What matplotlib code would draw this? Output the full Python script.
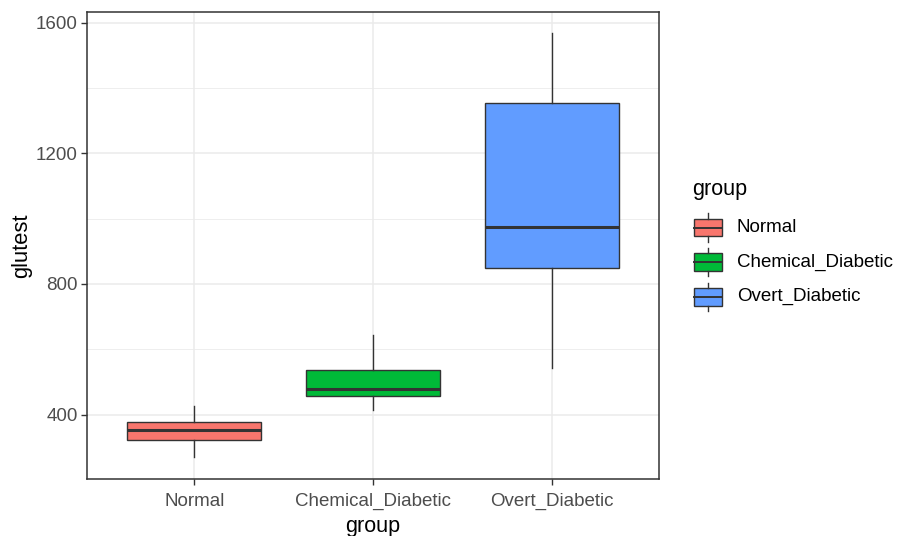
import matplotlib.pyplot as plt
from matplotlib.patches import Rectangle
from matplotlib.ticker import MultipleLocator

plt.rcParams['font.family'] = ['Liberation Sans', 'DejaVu Sans']

# glutest summary per group
groups = ["Normal", "Chemical_Diabetic", "Overt_Diabetic"]
whis_lo = [271, 414, 542]
q1 = [323, 456, 850]
median = [353, 477, 975]
q3 = [378, 535, 1355]
whis_hi = [426, 643, 1569]
colors = ["#F8766D", "#00BA38", "#619CFF"]

edge = "#333333"
W, H = 897, 536
fig = plt.figure(figsize=(W / 100, H / 100), dpi=100)
ax = fig.add_axes([87.3 / W, 1 - 479 / H, (659 - 87.3) / W, (479 - 12.3) / H])

stats = []
for g, lo, a, m, b, hi in zip(groups, whis_lo, q1, median, q3, whis_hi):
    stats.append(dict(label=g, whislo=lo, q1=a, med=m, q3=b, whishi=hi, fliers=[]))

pos = list(range(1, len(groups) + 1))
bp = ax.bxp(stats, positions=pos, widths=0.75, patch_artist=True, showcaps=False,
            boxprops=dict(edgecolor=edge, linewidth=1.0),
            whiskerprops=dict(color=edge, linewidth=1.0),
            medianprops=dict(color=edge, linewidth=2.2, solid_capstyle='butt'),
            zorder=3)
for patch, c in zip(bp['boxes'], colors):
    patch.set_facecolor(c)

ax.set_xlim(0.4, 3.6)
ax.set_ylim(202.5, 1632)
ax.yaxis.set_major_locator(MultipleLocator(400))
ax.yaxis.set_minor_locator(MultipleLocator(200))
ax.set_xticks(pos)
ax.set_xticklabels(groups)

ax.grid(True, which='major', color='#EBEBEB', linewidth=1.1, zorder=0)
ax.grid(True, which='minor', axis='y', color='#EBEBEB', linewidth=0.6, zorder=0)
ax.set_axisbelow(True)
for s in ax.spines.values():
    s.set_color(edge)
    s.set_linewidth(1.1)
ax.tick_params(which='major', length=4, width=1.0, color=edge, labelcolor='#4D4D4D',
               labelsize=13.5, pad=3)
ax.tick_params(axis='x', pad=6)
ax.tick_params(which='minor', length=0)

ax.set_xlabel("group", fontsize=15.5, labelpad=4)
ax.set_ylabel("glutest", fontsize=15.8, labelpad=2.5)

# legend drawn in figure pixel space
lg = fig.add_axes([0, 0, 1, 1], zorder=-1)
lg.set_xlim(0, W)
lg.set_ylim(H, 0)
lg.axis('off')
lg.text(692, 190, "group", fontsize=15.5, va='center', ha='left')
key_w, key_h = 37.3, 35.5
for i, (g, c) in enumerate(zip(groups, colors)):
    cy = 227.5 + i * 34.7
    kx = 708.3 - key_w / 2
    top = cy - key_h / 2
    lg.plot([kx + key_w / 2] * 2, [top + 0.1 * key_h, top + 0.25 * key_h], color=edge, lw=1.0)
    lg.plot([kx + key_w / 2] * 2, [top + 0.75 * key_h, top + 0.9 * key_h], color=edge, lw=1.0)
    lg.add_patch(Rectangle((kx + 0.125 * key_w, top + 0.25 * key_h), 0.75 * key_w, 0.5 * key_h,
                           facecolor=c, edgecolor=edge, lw=1.0))
    lg.plot([kx + 0.125 * key_w, kx + 0.875 * key_w], [cy, cy], color=edge, lw=1.4)
    lg.text(737, cy, g, fontsize=13.5, va='center', ha='left')

fig.savefig("out.png", dpi=100)
